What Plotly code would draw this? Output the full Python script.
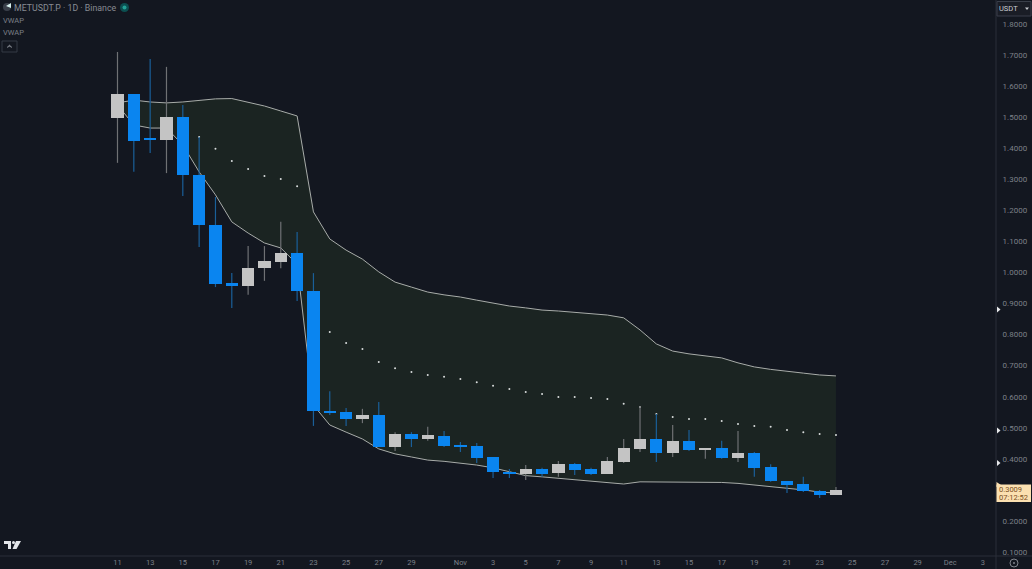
import pandas as pd
import plotly.graph_objects as go

# daily candles, METUSDT.P perpetual, Oct 11 - Nov 24
dates = pd.date_range("2025-10-11", "2025-11-24", freq="D")
opens = [1.497, 1.575, 1.430, 1.427, 1.501, 1.314, 1.153, 0.966, 0.957, 1.014, 1.034, 1.063, 0.940, 0.554, 0.551,
         0.528, 0.541, 0.438, 0.480, 0.464, 0.474, 0.445, 0.441, 0.406, 0.358, 0.351, 0.367, 0.354, 0.383, 0.367,
         0.351, 0.390, 0.432, 0.464, 0.419, 0.458, 0.429, 0.435, 0.403, 0.419, 0.374, 0.329, 0.319, 0.297, 0.284]
highs = [1.710, 1.575, 1.687, 1.662, 1.539, 1.436, 1.243, 0.998, 1.085, 1.085, 1.163, 1.130, 0.998, 0.618, 0.564,
         0.561, 0.583, 0.486, 0.486, 0.503, 0.490, 0.454, 0.451, 0.406, 0.367, 0.380, 0.371, 0.393, 0.387, 0.371,
         0.406, 0.464, 0.570, 0.544, 0.509, 0.493, 0.435, 0.458, 0.490, 0.422, 0.383, 0.329, 0.342, 0.300, 0.309]
lows = [1.353, 1.324, 1.385, 1.320, 1.246, 1.082, 0.953, 0.886, 0.928, 0.973, 1.014, 0.908, 0.506, 0.541, 0.506,
        0.515, 0.438, 0.425, 0.438, 0.458, 0.438, 0.422, 0.387, 0.338, 0.338, 0.332, 0.342, 0.342, 0.348, 0.348,
        0.351, 0.387, 0.422, 0.390, 0.406, 0.425, 0.400, 0.400, 0.390, 0.342, 0.326, 0.290, 0.293, 0.274, 0.284]
closes = [1.575, 1.423, 1.427, 1.501, 1.314, 1.153, 0.963, 0.957, 1.014, 1.037, 1.063, 0.940, 0.554, 0.548, 0.528,
          0.541, 0.438, 0.480, 0.464, 0.477, 0.441, 0.438, 0.403, 0.358, 0.351, 0.367, 0.351, 0.383, 0.364, 0.351,
          0.393, 0.435, 0.464, 0.419, 0.458, 0.429, 0.435, 0.403, 0.419, 0.371, 0.329, 0.316, 0.297, 0.284, 0.3009]

# anchored VWAP and its bands
vwap_upper = [1.546, 1.555, 1.549, 1.546, 1.549, 1.555, 1.559, 1.560, 1.549, 1.536, 1.520, 1.504, 1.195, 1.108, 1.072,
              1.043, 1.002, 0.969, 0.953, 0.937, 0.928, 0.921, 0.911, 0.902, 0.892, 0.886, 0.879, 0.876, 0.871, 0.866,
              0.863, 0.854, 0.815, 0.770, 0.747, 0.738, 0.731, 0.725, 0.709, 0.696, 0.688, 0.683, 0.676, 0.670, 0.667]
vwap_lower = [1.539, 1.475, 1.465, 1.465, 1.411, 1.324, 1.250, 1.163, 1.127, 1.095, 1.079, 1.027, 0.573, 0.509, 0.486,
              0.464, 0.432, 0.416, 0.406, 0.396, 0.392, 0.387, 0.380, 0.371, 0.358, 0.346, 0.342, 0.337, 0.332, 0.329,
              0.324, 0.319, 0.326, 0.326, 0.326, 0.326, 0.326, 0.324, 0.321, 0.316, 0.311, 0.306, 0.300, 0.293, 0.290]
vwap_mid = [None, None, None, None, None, 1.436, 1.398, 1.359, 1.333, 1.311, 1.301, 1.278, None, 0.808, 0.773,
            0.754, 0.712, 0.692, 0.680, 0.670, 0.664, 0.657, 0.647, 0.635, 0.625, 0.615, 0.609, 0.599, 0.599, 0.596,
            0.593, 0.577, 0.567, 0.544, 0.535, 0.528, 0.528, 0.522, 0.512, 0.506, 0.503, 0.493, 0.486, 0.480, 0.477]

tick_dates = ["2025-10-11", "2025-10-13", "2025-10-15", "2025-10-17", "2025-10-19", "2025-10-21", "2025-10-23",
              "2025-10-25", "2025-10-27", "2025-10-29", "2025-11-01", "2025-11-03", "2025-11-05", "2025-11-07",
              "2025-11-09", "2025-11-11", "2025-11-13", "2025-11-15", "2025-11-17", "2025-11-19", "2025-11-21",
              "2025-11-23", "2025-11-25", "2025-11-27", "2025-11-29", "2025-12-01", "2025-12-03"]
tick_labels = ["11", "13", "15", "17", "19", "21", "23", "25", "27", "29", "Nov", "3", "5", "7", "9", "11", "13",
               "15", "17", "19", "21", "23", "25", "27", "29", "Dec", "3"]
# 0.3 sits under the last price tag, so it is not listed
price_ticks = [0.1, 0.2, 0.4, 0.5, 0.6, 0.7, 0.8, 0.9, 1.0, 1.1, 1.2, 1.3, 1.4, 1.5, 1.6, 1.7, 1.8]

BG = "#131720"
TEXT = "#7c8088"
UP = "#c4c4c4"
DOWN = "#0a85f0"
UP_WICK = "#6f7174"
DOWN_WICK = "#1a5f99"
BAND = "#a8aca9"
FONT = "Roboto, Liberation Sans, sans-serif"

PLOT_W = 996
PLOT_H = 556


def px(x):
    return x / PLOT_W


def py(y):
    return 1 - y / PLOT_H


def label(text, x, y, size, color=TEXT, anchor="left", **kw):
    return dict(text=text, x=px(x), y=py(y), xref="paper", yref="paper", xanchor=anchor, yanchor="middle",
                showarrow=False, align=anchor, borderpad=0, borderwidth=0,
                font=dict(size=size, color=color, family=FONT), **kw)


def poly(points):
    return "M" + " L".join(f"{px(x):.5f},{py(y):.5f}" for x, y in points) + " Z"


fig = go.Figure()

# bands go on the base axes so the candle bodies (overlay axes) stay on top
fig.add_trace(go.Scatter(x=dates, y=vwap_upper, mode="lines", line=dict(color=BAND, width=1), hoverinfo="skip"))
fig.add_trace(go.Scatter(x=dates, y=vwap_lower, mode="lines", line=dict(color=BAND, width=1), fill="tonexty",
                         fillcolor="#1b2422", hoverinfo="skip"))
fig.add_trace(go.Scatter(x=dates, y=vwap_mid, mode="markers", marker=dict(color="#d8dcdc", size=2), hoverinfo="skip"))

for want_up, color in [(True, UP_WICK), (False, DOWN_WICK)]:
    wick_x, wick_y = [], []
    for d, o, h, l, c in zip(dates, opens, highs, lows, closes):
        if (c >= o) == want_up:
            wick_x += [d, d, None]
            wick_y += [h, l, None]
    fig.add_trace(go.Scatter(x=wick_x, y=wick_y, mode="lines", line=dict(color=color, width=1.2), hoverinfo="skip"))

fig.add_trace(go.Bar(
    x=dates,
    y=[abs(c - o) for o, c in zip(opens, closes)],
    base=[min(o, c) for o, c in zip(opens, closes)],
    width=64800000,
    marker=dict(color=[UP if c >= o else DOWN for o, c in zip(opens, closes)], line_width=0),
    xaxis="x2", yaxis="y2", hoverinfo="skip",
))

x_range = ["2025-10-03 19:19", "2025-12-03 19:12"]
y_range = [0.0872, 1.8773]

annotations = [
    label("METUSDT.P · 1D · Binance", 14, 7.5, 8.8, "#878b93"),
    label("VWAP", 2.5, 20.5, 7.5),
    label("VWAP", 2.5, 33, 7.5),
    label("USDT", 999, 8.5, 7.5, "#c9ccd2"),
    label("0.3009", 999, 489.5, 7.5, "#7a4f1c"),
    label("07:12:52", 998.5, 497.5, 7.5, "#7a4f1c"),
]

shapes = [
    # axis borders
    dict(type="line", xref="paper", yref="paper", x0=1, x1=1, y0=py(0), y1=py(569), line=dict(color="#2a2e38", width=1)),
    dict(type="line", xref="paper", yref="paper", x0=0, x1=px(1032), y0=0, y1=0, line=dict(color="#2a2e38", width=1)),
    # interval collapse button
    dict(type="rect", xref="paper", yref="paper", x0=px(2), x1=px(17), y0=py(41), y1=py(52),
         line=dict(color="#353a45", width=1)),
    dict(type="path", xref="paper", yref="paper", path=poly([(7, 47.5), (9.5, 45), (12, 47.5), (9.5, 46.3)]),
         fillcolor="#8b8f97", line=dict(color="#8b8f97", width=0.5)),
    # symbol icon + status dot
    dict(type="circle", xref="paper", yref="paper", x0=px(3), x1=px(11), y0=py(3), y1=py(11),
         fillcolor="#3a3f4a", line_width=0),
    dict(type="path", xref="paper", yref="paper", path=poly([(6, 6), (11, 3), (11, 8)]),
         fillcolor="#d8f0ee", line_width=0),
    dict(type="circle", xref="paper", yref="paper", x0=px(120), x1=px(129), y0=py(3), y1=py(12),
         fillcolor="#0c4f50", line_width=0),
    dict(type="circle", xref="paper", yref="paper", x0=px(122.5), x1=px(126.5), y0=py(5.5), y1=py(9.5),
         fillcolor="#23a094", line_width=0),
    # currency button
    dict(type="rect", xref="paper", yref="paper", x0=px(997), x1=px(1031), y0=py(1.5), y1=py(16),
         fillcolor="#1a1d26", line=dict(color="#3a3f4a", width=1)),
    dict(type="path", xref="paper", yref="paper", path=poly([(1025, 7.5), (1029, 7.5), (1027, 10)]),
         fillcolor="#c9ccd2", line_width=0),
    # last price tag
    dict(type="rect", xref="paper", yref="paper", x0=px(996.5), x1=px(1031), y0=py(484.5), y1=py(502),
         fillcolor="#fbe0b0", line_width=0),
    dict(type="path", xref="paper", yref="paper", path=poly([(996.5, 482), (1001, 485), (996.5, 487)]),
         fillcolor="#fbe0b0", line_width=0),
    # right-axis alert arrows
    dict(type="path", xref="paper", yref="paper", path=poly([(997, 306.5), (1000.5, 309.5), (997, 312.5)]),
         fillcolor="#e6e8ea", line_width=0),
    dict(type="path", xref="paper", yref="paper", path=poly([(997, 427.5), (1000.5, 430.5), (997, 433.5)]),
         fillcolor="#e6e8ea", line_width=0),
    dict(type="path", xref="paper", yref="paper", path=poly([(997, 460), (1000.5, 463), (997, 466)]),
         fillcolor="#e6e8ea", line_width=0),
    # settings cog
    dict(type="circle", xref="paper", yref="paper", x0=px(1010), x1=px(1018), y0=py(559), y1=py(567),
         line=dict(color="#80848c", width=1)),
    dict(type="circle", xref="paper", yref="paper", x0=px(1013), x1=px(1015), y0=py(562), y1=py(564),
         fillcolor="#80848c", line_width=0),
    # TradingView logo
    dict(type="path", xref="paper", yref="paper",
         path=poly([(4, 541), (11, 541), (11, 549), (8, 549), (8, 544), (4, 544)]),
         fillcolor="#e4e6ea", line_width=0),
    dict(type="circle", xref="paper", yref="paper", x0=px(12), x1=px(15), y0=py(541), y1=py(544),
         fillcolor="#e4e6ea", line_width=0),
    dict(type="path", xref="paper", yref="paper", path=poly([(16, 541), (21, 541), (16.5, 549), (12.5, 549)]),
         fillcolor="#e4e6ea", line_width=0),
]

fig.update_layout(
    width=1032,
    height=569,
    margin=dict(l=0, r=36, t=0, b=13, autoexpand=False),
    paper_bgcolor=BG,
    plot_bgcolor=BG,
    showlegend=False,
    hovermode=False,
    bargap=0,
    font=dict(family=FONT, size=8, color=TEXT),
    xaxis=dict(type="date", range=x_range, tickvals=tick_dates, ticktext=tick_labels, tickangle=0,
               showgrid=False, zeroline=False, showline=False, ticks="", automargin=False,
               tickfont=dict(size=7.5, color=TEXT)),
    yaxis=dict(range=y_range, side="right", tickvals=price_ticks, tickformat=".4f",
               showgrid=False, zeroline=False, showline=False, ticks="outside", ticklen=4, tickcolor=BG,
               automargin=False, tickfont=dict(size=8, color=TEXT)),
    xaxis2=dict(type="date", overlaying="x", matches="x", visible=False),
    yaxis2=dict(overlaying="y", matches="y", visible=False),
    annotations=annotations,
    shapes=shapes,
)

fig.write_html("out.html", config={"displayModeBar": False},
               post_script="document.body.style.margin='0';document.body.style.background='#131720';")
